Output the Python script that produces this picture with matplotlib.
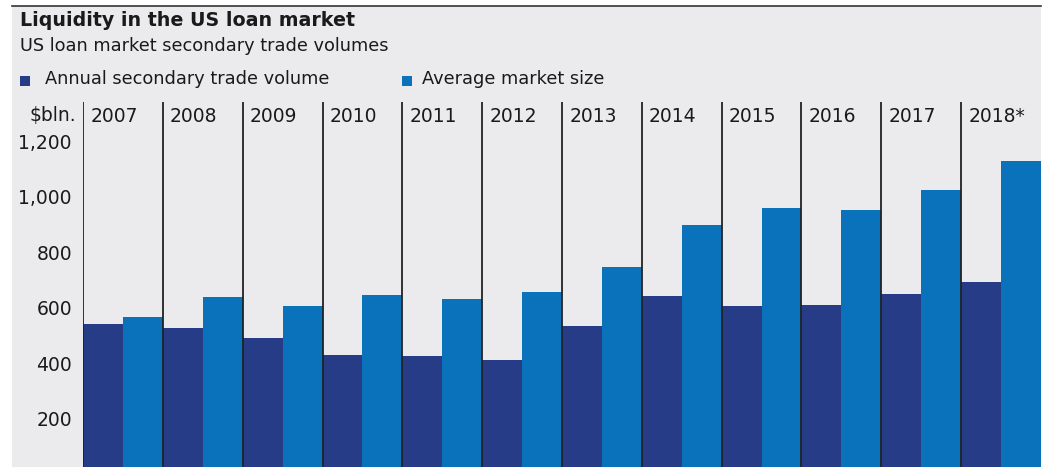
import matplotlib
matplotlib.use('Agg')
import matplotlib.pyplot as plt
from matplotlib.patches import Rectangle
from matplotlib.lines import Line2D
import numpy as np

# データ
years = ['2007', '2008', '2009', '2010', '2011', '2012',
         '2013', '2014', '2015', '2016', '2017', '2018*']
trade_volume = [542, 528, 492, 431, 427, 413, 535, 643, 607, 611, 650, 694]
market_size = [568, 640, 607, 647, 632, 658, 748, 899, 960, 953, 1025, 1130]
yticks = [200, 400, 600, 800, 1000, 1200]

dark = '#273c87'
light = '#0a72ba'
bg = '#ebebed'
W, H = 1046, 467

fig = plt.figure(figsize=(W / 100, H / 100), dpi=100, facecolor='white')
plt.rcParams['font.family'] = ['DejaVu Sans']

# 背景パネルと上の線
fig.patches.append(Rectangle((12 / W, 0), (1041 - 12) / W, (H - 6) / H,
                             transform=fig.transFigure, facecolor=bg,
                             edgecolor='none', zorder=-5))
fig.add_artist(Line2D([12 / W, 1041 / W], [1 - 6 / H, 1 - 6 / H],
                      transform=fig.transFigure, color='#333333', lw=1.2))

# タイトル・サブタイトル
fig.text(20 / W, 1 - 21 / H, 'Liquidity in the US loan market', fontsize=13.7,
         fontweight='bold', color='#1a1a1a', va='center', ha='left')
fig.text(20 / W, 1 - 46 / H, 'US loan market secondary trade volumes', fontsize=12.8,
         color='#1a1a1a', va='center', ha='left')

# 凡例
fig.patches.append(Rectangle((20 / W, 1 - 86 / H), 10 / W, 10 / H,
                             transform=fig.transFigure, facecolor=dark, edgecolor='none'))
fig.text(45 / W, 1 - 79 / H, 'Annual secondary trade volume', fontsize=12.8,
         color='#1a1a1a', va='center', ha='left')
fig.patches.append(Rectangle((402 / W, 1 - 86 / H), 10 / W, 10 / H,
                             transform=fig.transFigure, facecolor=light, edgecolor='none'))
fig.text(422 / W, 1 - 79 / H, 'Average market size', fontsize=12.8,
         color='#1a1a1a', va='center', ha='left')

# グラフ本体
ax = fig.add_axes([83 / W, 0, (1041 - 83) / W, (H - 102) / H])
ax.set_facecolor('none')
x = np.arange(len(years))
ax.bar(x - 0.25, trade_volume, width=0.5, color=dark, zorder=2)
ax.bar(x + 0.25, market_size, width=0.5, color=light, zorder=2)

for i in range(len(years)):
    ax.axvline(i - 0.5, color='#222222', lw=1.3, zorder=3)
    ax.text(i - 0.5 + 0.09, 1 - 14 / (H - 102), years[i], transform=ax.get_xaxis_transform(),
            fontsize=13.5, color='#1a1a1a', va='center', ha='left')

ax.set_xlim(-0.5, len(years) - 0.5)
ax.set_ylim(27, 1342)
ax.set_yticks(yticks)
ax.set_yticklabels([f'{v:,}' for v in yticks], fontsize=13.5, color='#1a1a1a')
ax.tick_params(axis='y', length=0, pad=8)
ax.set_xticks([])
for s in ax.spines.values():
    s.set_visible(False)

fig.text(76 / W, 1 - 115 / H, '$bln.', fontsize=13.5, color='#1a1a1a',
         va='center', ha='right')

plt.savefig('out.png', dpi=100, facecolor='white')
